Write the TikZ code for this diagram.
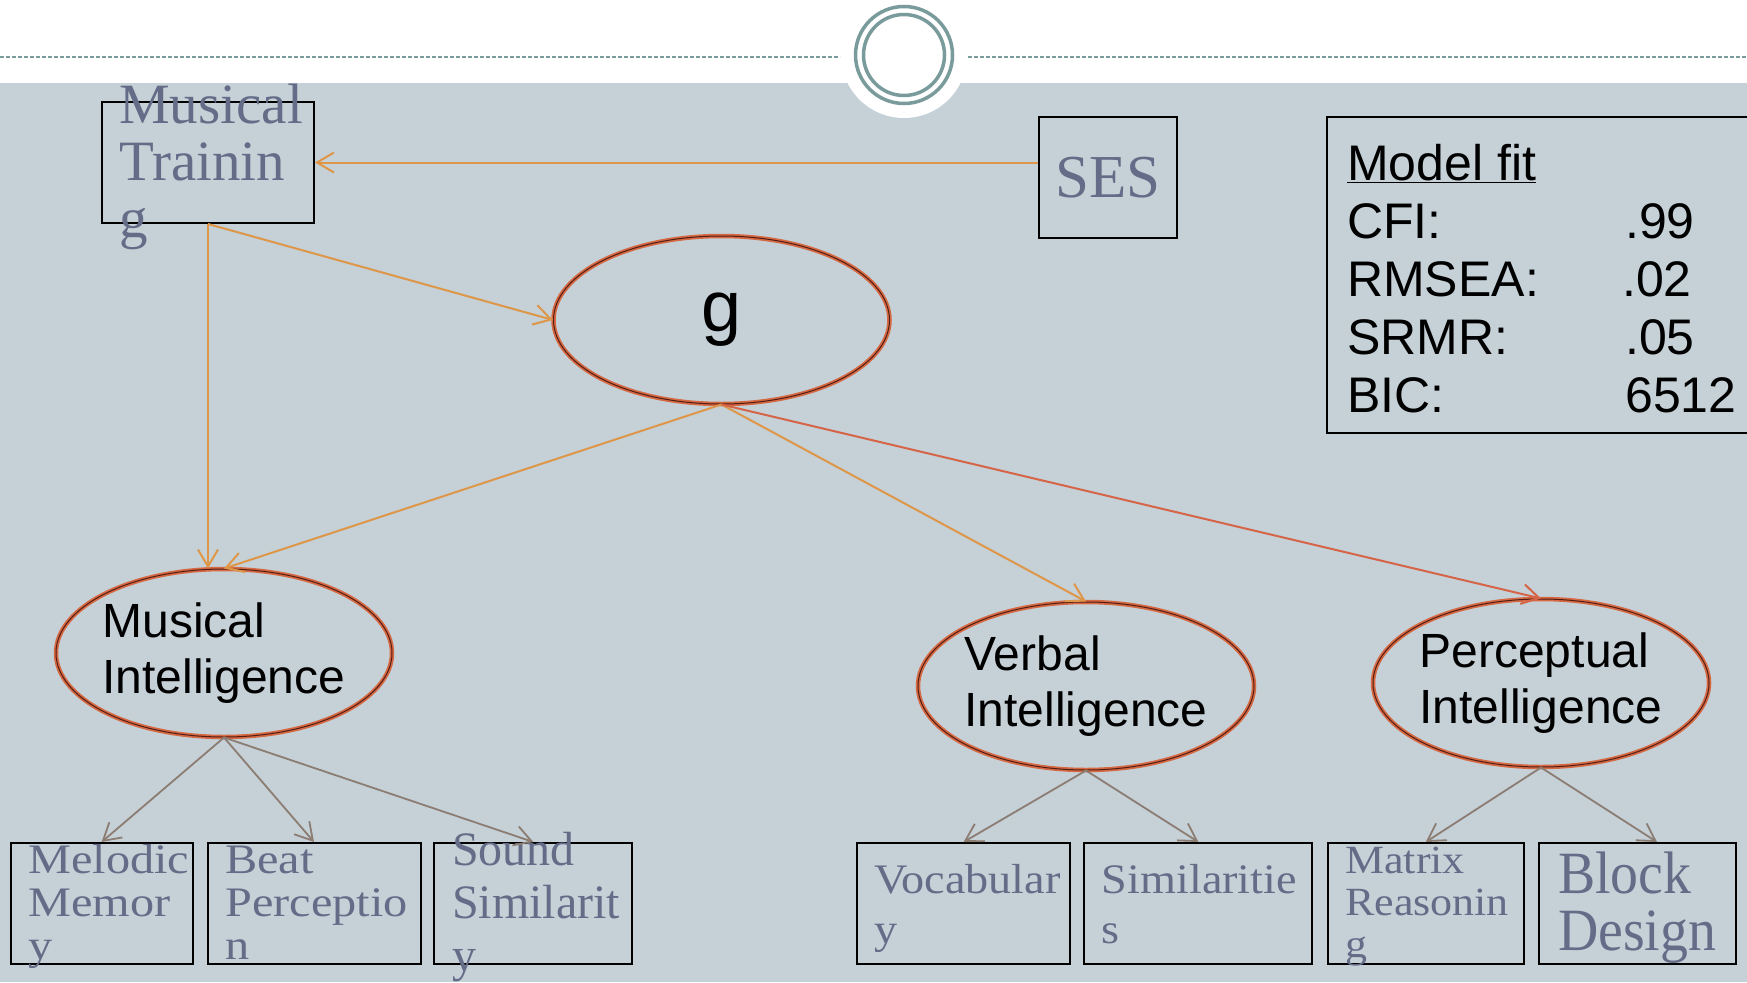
\documentclass[tikz,border=0pt]{standalone}
\usepackage{fontspec}
\setmainfont{Liberation Serif}
\setsansfont{Liberation Sans}
\newfontfamily\serifwide[FakeStretch=1.15]{Liberation Serif}
\newfontfamily\serifmid[FakeStretch=1.1]{Liberation Serif}
\newfontfamily\serifnarrow[FakeStretch=0.93]{Liberation Serif}
\usetikzlibrary{arrows.meta,shapes.geometric}

\definecolor{bggrey}{RGB}{197,208,215}
\definecolor{ringteal}{RGB}{122,155,155}
\definecolor{slate}{RGB}{100,108,136}
\definecolor{arrorange}{RGB}{222,150,72}
\definecolor{arrred}{RGB}{214,100,70}
\definecolor{arrbrown}{RGB}{140,125,115}
\definecolor{latred}{RGB}{214,104,66}
\definecolor{latdark}{RGB}{80,30,20}

\begin{document}
\begin{tikzpicture}[x=1pt,y=-1pt,
	manifest/.style={draw,rectangle,line width=2pt,minimum height=121pt},
	boxtext/.style={anchor=base west,inner sep=0pt,align=left,text=slate},
	latent/.style={ellipse,minimum width=336pt,minimum height=168pt,inner xsep=-8pt,inner ysep=0pt,align=left,
		draw=latdark,line width=1pt,preaction={draw=latred,line width=4.5pt},
		font=\sffamily\fontsize{48}{56}\selectfont},
	orangearr/.style={draw=arrorange,line width=2pt,-{Straight Barb[length=17pt,width=20pt]}},
	redarr/.style={orangearr,draw=arrred},
	greyarr/.style={draw=arrbrown,line width=1.8pt,-{Straight Barb[length=17pt,width=20pt]}}]
	\useasboundingbox (0,0) rectangle (1747,982);

	% slide background
	\fill[white] (0,0) rectangle (1747,83);
	\fill[bggrey] (0,83) rectangle (1747,982);
	\fill[white] (904,55) circle (63);
	\draw[ringteal,line width=1.5pt,dash pattern=on 4pt off 2pt] (0,57) -- (840,57);
	\draw[ringteal,line width=1.5pt,dash pattern=on 4pt off 2pt] (968,57) -- (1747,57);
	\draw[ringteal,line width=3.5pt] (904,55) circle (48.5);
	\draw[ringteal,line width=3.5pt] (904,55) circle (40.5);

	% text nodes sit on the baseline of their last line
	\node[manifest,minimum width=212pt] (mt) at (208,162.5) {};
	\node[boxtext,font=\fontsize{57}{57}\selectfont] (mttext) at (119,237) {Musical\\Trainin\\g};
	\node[manifest,minimum width=138pt,text=slate,font=\fontsize{61}{61}\selectfont] (ses) at (1108,177.5) {SES};

	\node[manifest,minimum width=440pt,minimum height=316pt] (fit) at (1547,275) {};
	\node[anchor=base west,inner sep=0pt,align=left,font=\sffamily\fontsize{50}{58}\selectfont] (fittext) at (1347,412)
		{\underline{Model fit}\\\makebox[278pt][l]{CFI:}.99\\\makebox[275pt][l]{RMSEA:}.02\\
		 \makebox[278pt][l]{SRMR:}.05\\\makebox[278pt][l]{BIC:}6512};

	\node[latent,font=\sffamily\fontsize{72}{72}\selectfont] (g) at (721.5,320) {g};
	\node[latent] (musint) at (224,653) {Musical\\Intelligence};
	\node[latent] (verbint) at (1086,686) {Verbal\\Intelligence};
	\node[latent] (percint) at (1541,683) {Perceptual\\Intelligence};

	% indicator boxes
	\node[manifest,minimum width=182pt] (mm) at (101.6,903.5) {};
	\node[manifest,minimum width=213pt] (bp) at (314,903.5) {};
	\node[manifest,minimum width=198pt] (ss) at (533.4,903.5) {};
	\node[manifest,minimum width=213pt] (vo) at (963.6,903.5) {};
	\node[manifest,minimum width=228pt] (si) at (1198.4,903.5) {};
	\node[manifest,minimum width=196pt] (mr) at (1425.8,903.5) {};
	\node[manifest,minimum width=197pt] (bd) at (1637,903.5) {};

	\node[boxtext,font=\serifwide\fontsize{42}{43}\selectfont] (mmtext) at (28,959) {Melodic\\Memor\\y};
	\node[boxtext,font=\serifwide\fontsize{42}{43}\selectfont] (bptext) at (225,959) {Beat\\Perceptio\\n};
	\node[boxtext,font=\fontsize{48}{53}\selectfont] (sstext) at (452,971) {Sound\\Similarit\\y};
	\node[boxtext,font=\serifmid\fontsize{42}{50}\selectfont] (votext) at (874,943) {Vocabular\\y};
	\node[boxtext,font=\serifmid\fontsize{42}{50}\selectfont] (sitext) at (1101.7,943) {Similaritie\\s};
	\node[boxtext,font=\serifmid\fontsize{40}{42}\selectfont] (mrtext) at (1345,957) {Matrix\\Reasonin\\g};
	\node[boxtext,font=\serifnarrow\fontsize{60}{57}\selectfont] (bdtext) at (1558,950) {Block\\Design};

	\draw[orangearr] (mt.east -| ses.west) -- (mt.east);
	\draw[orangearr] (mt.south) -- (g.west);
	\draw[orangearr] (mt.south) -- (mt.south |- musint.north);
	\draw[orangearr] (g.south) -- (musint.north);
	\draw[orangearr] (g.south) -- (verbint.north);
	\draw[redarr] (g.south) -- (percint.north);

	\draw[greyarr] (musint.south) -- (mm.north);
	\draw[greyarr] (musint.south) -- (bp.north);
	\draw[greyarr] (musint.south) -- (ss.north);
	\draw[greyarr] (verbint.south) -- (vo.north);
	\draw[greyarr] (verbint.south) -- (si.north);
	\draw[greyarr] (percint.south) -- (mr.north);
	\draw[greyarr] (percint.south) -- ([xshift=20pt]bd.north);
\end{tikzpicture}
\end{document}
